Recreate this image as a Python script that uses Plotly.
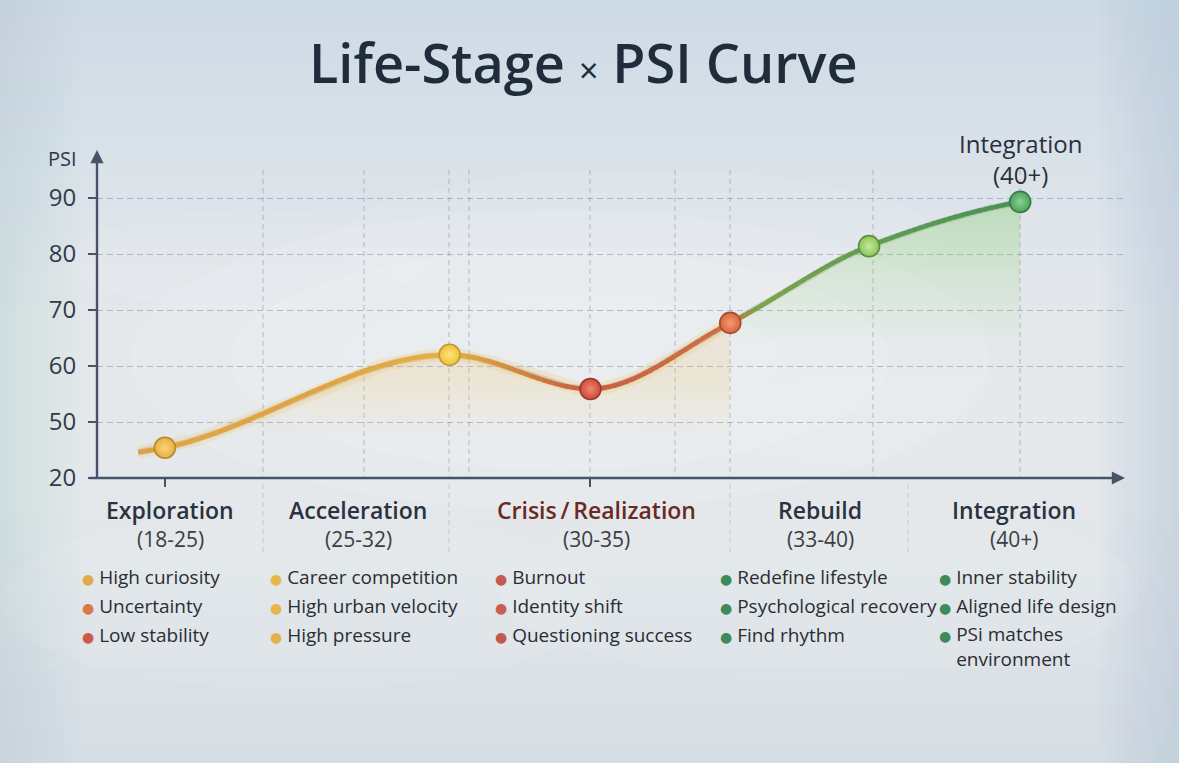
import numpy as np
import plotly.graph_objects as go

# ---------------- data ----------------
stages = ["Exploration", "Acceleration", "Crisis\u2009/\u2009Realization", "Rebuild", "Integration"]
age_ranges = ["(18-25)", "(25-32)", "(30-35)", "(33-40)", "(40+)"]
# curve control points (timeline position 0-100, PSI on displayed scale)
curve_x = [4.0, 6.6, 34.3, 48.0, 61.6, 75.1, 89.8]
curve_psi = [44.6, 45.4, 62.0, 55.9, 67.7, 81.4, 89.3]
# the marked stage points (index into curve arrays)
marker_idx = [1, 2, 3, 4, 5, 6]
y_tickvals = [40, 50, 60, 70, 80, 90]
y_ticktext = ["20", "50", "60", "70", "80", "90"]
bullets = [
    ["High curiosity", "Uncertainty", "Low stability"],
    ["Career competition", "High urban velocity", "High pressure"],
    ["Burnout", "Identity shift", "Questioning success"],
    ["Redefine lifestyle", "Psychological recovery", "Find rhythm"],
    ["Inner stability", "Aligned life design", "PSi matches\nenvironment"],
]

# ---------------- styling ----------------
W_PX, H_PX = 1179, 763
L, R, T, B = 97, 1125, 150, 478
PW, PH = R - L, B - T
Y0, Y1 = 40.0, 40.0 + PH / 5.6
X0, X1 = 0.0, 100.0
FONT = "Open Sans"


def px(x):
    return (x - L) / PW


def py(y):
    return (B - y) / PH


def dx(x):  # pixel -> data x
    return X0 + (x - L) / PW * (X1 - X0)


def dy(y):
    return Y0 + (B - y) / PH * (Y1 - Y0)


bullet_colors = [
    ["#e3aa4a", "#d77a48", "#cc5a4c"],
    ["#e8b648", "#e8b648", "#e4b24a"],
    ["#c45a4a", "#c85e4e", "#c45a4a"],
    ["#3f8a5c", "#3f8a5c", "#3f8a5c"],
    ["#3f8a5c", "#3f8a5c", "#3f8a5c"],
]
marker_base = ["#e8ae42", "#eec23c", "#d04a3c", "#da6640", "#8cc45a", "#4ea25a"]
marker_hi = ["#f9d578", "#fde47a", "#ee8a6a", "#f29a70", "#c6e89a", "#86d296"]
marker_edge = ["#b88a30", "#bf9a30", "#9a3a30", "#a84a30", "#5a9040", "#3a7a48"]

# colour stops along the curve (x data, rgb)
col_stops = [
    (4.0, (222, 160, 66)), (6.6, (226, 166, 66)), (22, (222, 164, 66)),
    (34.3, (228, 178, 64)), (41, (208, 134, 62)), (48.0, (200, 92, 64)),
    (55, (200, 108, 68)), (61.6, (204, 112, 68)), (64, (126, 164, 74)),
    (75.1, (94, 158, 82)), (89.8, (72, 146, 88)),
]


def col_at(x):
    xs_ = [c[0] for c in col_stops]
    out = []
    for k in range(3):
        out.append(int(round(np.interp(x, xs_, [c[1][k] for c in col_stops]))))
    return "rgb(%d,%d,%d)" % tuple(out)


def pchip(xk, yk, xs_):
    xk = np.asarray(xk, float)
    yk = np.asarray(yk, float)
    h = np.diff(xk)
    d = np.diff(yk) / h
    n = len(xk)
    m = np.zeros(n)
    for i in range(1, n - 1):
        if d[i - 1] * d[i] <= 0:
            m[i] = 0
        else:
            w1 = 2 * h[i] + h[i - 1]
            w2 = h[i] + 2 * h[i - 1]
            m[i] = (w1 + w2) / (w1 / d[i - 1] + w2 / d[i])
    m[0] = d[0]
    m[-1] = d[-1] * 0.6
    out = np.empty_like(xs_)
    for j, x in enumerate(xs_):
        i = min(max(np.searchsorted(xk, x) - 1, 0), n - 2)
        t = (x - xk[i]) / h[i]
        h00 = 2 * t**3 - 3 * t**2 + 1
        h10 = t**3 - 2 * t**2 + t
        h01 = -2 * t**3 + 3 * t**2
        h11 = t**3 - t**2
        out[j] = h00 * yk[i] + h10 * h[i] * m[i] + h01 * yk[i + 1] + h11 * h[i] * m[i + 1]
    return out


xs = np.linspace(curve_x[0], curve_x[-1], 600)
ys = pchip(curve_x, curve_psi, xs)

fig = go.Figure()

# soft warm glow under the middle of the curve
mask = (xs >= 12) & (xs <= 61.6)
fig.add_trace(go.Scatter(
    x=xs[mask], y=ys[mask], mode="lines", line=dict(width=0), fill="tozeroy",
    fillgradient=dict(type="vertical", start=47, stop=68,
                      colorscale=[[0, "rgba(246,205,120,0)"], [0.5, "rgba(244,196,104,0.20)"],
                                  [1, "rgba(240,170,100,0.14)"]]),
    hoverinfo="skip", showlegend=False))
# green area under the rebuild / integration part
mask = xs >= curve_x[4]
fig.add_trace(go.Scatter(
    x=xs[mask], y=ys[mask], mode="lines", line=dict(width=0), fill="tozeroy",
    fillgradient=dict(type="vertical", start=63, stop=90,
                      colorscale=[[0, "rgba(160,220,130,0)"], [1, "rgba(135,208,110,0.40)"]]),
    hoverinfo="skip", showlegend=False))

# warm halo around the curve
mask = xs <= 62
fig.add_trace(go.Scatter(x=xs[mask], y=ys[mask], mode="lines",
                         line=dict(color="rgba(246,188,80,0.20)", width=13),
                         hoverinfo="skip", showlegend=False))
# thin darker edge under the curve
fig.add_trace(go.Scatter(x=xs, y=ys, mode="lines",
                         line=dict(color="rgba(120,80,40,0.16)", width=6.5),
                         hoverinfo="skip", showlegend=False))
# gradient-coloured curve built from short segments
nseg = 150
edges = np.linspace(0, len(xs) - 1, nseg + 1).astype(int)
for a, b in zip(edges[:-1], edges[1:]):
    xm = xs[(a + b) // 2]
    fig.add_trace(go.Scatter(x=xs[a:b + 2], y=ys[a:b + 2], mode="lines",
                             line=dict(color=col_at(xm), width=4.6),
                             hoverinfo="skip", showlegend=False))

# stage markers
mx = [curve_x[i] for i in marker_idx]
my = [curve_psi[i] for i in marker_idx]
fig.add_trace(go.Scatter(
    x=mx, y=my, mode="markers",
    marker=dict(size=21, color=marker_base,
                gradient=dict(type="radial", color=marker_hi),
                line=dict(color=marker_edge, width=1.6)),
    hoverinfo="skip", showlegend=False))

shapes = []
# background gradient bands
bg_stops = [(0, (206, 218, 229)), (130, (216, 225, 233)), (300, (228, 232, 236)),
            (520, (228, 232, 235)), (763, (214, 222, 229))]
nb = 40
for k in range(nb):
    y_top = k * H_PX / nb
    y_bot = (k + 1) * H_PX / nb
    ym = (y_top + y_bot) / 2
    c = [int(np.interp(ym, [s[0] for s in bg_stops], [s[1][j] for s in bg_stops])) for j in range(3)]
    shapes.append(dict(type="rect", xref="paper", yref="paper", layer="below",
                       x0=px(0), x1=px(W_PX), y0=py(y_bot + 1), y1=py(y_top),
                       fillcolor="rgb(%d,%d,%d)" % tuple(c), line=dict(width=0)))
# side tints fading inwards
for k in range(10):
    w = 8 * (k + 1)
    shapes.append(dict(type="rect", xref="paper", yref="paper", layer="below",
                       x0=px(W_PX - w), x1=px(W_PX), y0=py(H_PX), y1=py(0),
                       fillcolor="rgba(180,200,218,0.05)", line=dict(width=0)))
    shapes.append(dict(type="rect", xref="paper", yref="paper", layer="below",
                       x0=px(0), x1=px(w), y0=py(H_PX), y1=py(0),
                       fillcolor="rgba(180,200,218,0.045)", line=dict(width=0)))
# soft cloud blobs
for cx, cy, rx, ry, a in [(560, 360, 430, 150, 0.10), (560, 360, 330, 110, 0.10),
                          (560, 360, 220, 70, 0.08), (300, 600, 300, 90, 0.08),
                          (820, 590, 320, 90, 0.08), (640, 240, 300, 70, 0.08),
                          (250, 260, 180, 50, 0.07), (900, 420, 200, 50, 0.07)]:
    shapes.append(dict(type="circle", xref="paper", yref="paper", layer="below",
                       x0=px(cx - rx), x1=px(cx + rx), y0=py(cy + ry), y1=py(cy - ry),
                       fillcolor="rgba(255,255,255,%.2f)" % a, line=dict(width=0)))

grid_col = "rgba(105,115,132,0.42)"
# vertical dashed grid
for gx in [263, 364, 449, 469, 590, 675, 730, 873, 1020]:
    shapes.append(dict(type="line", xref="x", yref="y", layer="below",
                       x0=dx(gx), x1=dx(gx), y0=dy(490), y1=dy(166),
                       line=dict(color=grid_col, width=1, dash="5px,4px")))
# separators continuing below the axis
for gx in [263, 449, 730, 908]:
    shapes.append(dict(type="line", xref="paper", yref="paper", layer="below",
                       x0=px(gx), x1=px(gx), y0=py(552), y1=py(480),
                       line=dict(color="rgba(105,115,132,0.28)", width=1, dash="5px,4px")))

annotations = []
axis_col = "#46536a"


def label(x, y, text, size, color, weight=400, xanchor="center", align="left"):
    annotations.append(dict(x=px(x), y=py(y), xref="paper", yref="paper", text=text,
                            xanchor=xanchor, yanchor="middle", align=align, showarrow=False,
                            font=dict(family=FONT, size=size, color=color, weight=weight)))


# axes with arrows
annotations.append(dict(x=0, y=1, xref="paper", yref="paper", ax=0, ay=PH + 2,
                        axref="pixel", ayref="pixel", text="", showarrow=True,
                        arrowhead=2, arrowsize=1.1, arrowwidth=2.4, arrowcolor=axis_col))
annotations.append(dict(x=1, y=0, xref="paper", yref="paper", ax=-(R - 88), ay=0,
                        axref="pixel", ayref="pixel", text="", showarrow=True,
                        arrowhead=2, arrowsize=1.1, arrowwidth=2.4, arrowcolor=axis_col))
label(62, 158, "PSI", 20, "#2c3848")

# title
label(583, 62, "Life-Stage <span style='font-size:34px;font-weight:400'>×</span> PSI Curve",
      54, "#1f2c3c", weight=600)

# top label for integration
label(1020, 159, "Integration<br>(40+)", 24, "#2a3038", align="center")

stage_cx = [170, 358, 596, 820, 1014]
bullet_dot_x = [80, 268, 493, 718, 937]
bullet_y = [577, 606, 635]
for i, name in enumerate(stages):
    scol = "#6a2a22" if i == 2 else "#2a3340"
    label(stage_cx[i], 510, name, 23, scol, weight=600)
    label(stage_cx[i], 539, age_ranges[i], 21, "#3b3d45")
    for j, item in enumerate(bullets[i]):
        lines = item.split("\n")
        txt = ("<span style='font-family:DejaVu Sans;font-size:14px;color:%s'>●</span> %s"
               % (bullet_colors[i][j], lines[0]))
        for extra in lines[1:]:
            txt += ("<br><span style='font-family:DejaVu Sans;font-size:14px;"
                    "color:rgba(0,0,0,0)'>●</span> %s" % extra)
        yc = bullet_y[j] + 11.5 * (len(lines) - 1)
        label(bullet_dot_x[i], yc, txt, 19, "#2b2d33", xanchor="left")

fig.update_layout(
    width=W_PX, height=H_PX,
    margin=dict(l=L, r=W_PX - R, t=T, b=H_PX - B, pad=0),
    paper_bgcolor="#dfe6ec", plot_bgcolor="rgba(0,0,0,0)",
    shapes=shapes, annotations=annotations, showlegend=False,
    xaxis=dict(range=[X0, X1], showgrid=False, zeroline=False, showline=False,
               tickvals=[mx[0], mx[2]], ticks="outside", ticklen=8, tickwidth=2,
               tickcolor=axis_col, showticklabels=False, fixedrange=True),
    yaxis=dict(range=[Y0, Y1], tickvals=y_tickvals, ticktext=y_ticktext,
               ticks="outside", ticklen=8, tickwidth=2, tickcolor=axis_col,
               ticklabelstandoff=7,
               showgrid=True, gridcolor=grid_col, griddash="6px,4px", gridwidth=1,
               zeroline=False, showline=False, fixedrange=True,
               tickfont=dict(family=FONT, size=24, color="#2f3b4c")),
)

fig.write_html("out.html")
